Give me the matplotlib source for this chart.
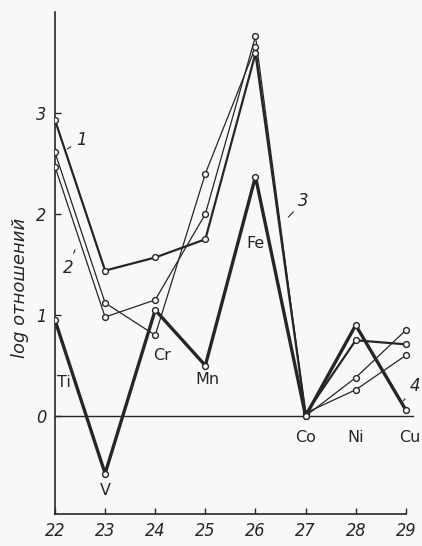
import matplotlib
matplotlib.use("Agg")
import matplotlib.pyplot as plt

# atomic numbers on the x axis
z = [22, 23, 24, 25, 26, 27, 28, 29]
elements = ["Ti", "V", "Cr", "Mn", "Fe", "Co", "Ni", "Cu"]

# log ratios
curve1 = [2.93, 1.44, 1.57, 1.75, 3.59, 0.02, 0.75, 0.71]
curve2 = [2.47, 0.98, 1.15, 2.00, 3.76, 0.00, 0.38, 0.85]
curve3 = [2.61, 1.12, 0.80, 2.40, 3.65, 0.03, 0.26, 0.60]
curve4 = [0.95, -0.57, 1.05, 0.50, 2.37, 0.00, 0.90, 0.06]

ink = "#262626"
bg = "#f8f8f6"

fig = plt.figure(figsize=(4.22, 5.46), dpi=100, facecolor=bg)
ax = fig.add_axes([0.1303, 0.0586, 0.867, 0.9286], facecolor=bg)

mk = dict(marker="o", markersize=4.2, markerfacecolor="white",
          markeredgecolor=ink, markeredgewidth=1.0, color=ink)
ax.plot(z, curve2, lw=0.9, zorder=3, **mk)
ax.plot(z, curve3, lw=0.9, zorder=3, **mk)
ax.plot(z, curve1, lw=1.6, zorder=4, **mk)
ax.plot(z, curve4, lw=2.4, zorder=5, **mk)

# zero line
ax.plot([22, 29.15], [0, 0], color=ink, lw=1.0, zorder=2)

ax.set_xlim(22, 29.3)
ax.set_ylim(-0.97, 4.05)
for s in ["top", "right"]:
    ax.spines[s].set_visible(False)
ax.spines["left"].set_bounds(-0.97, 4.0)
ax.spines["bottom"].set_bounds(22, 29)
ax.spines["left"].set_color(ink)
ax.spines["bottom"].set_color(ink)
ax.spines["left"].set_linewidth(1.2)
ax.spines["bottom"].set_linewidth(1.2)

tick_font = dict(fontsize=13, fontstyle="italic", fontstretch="condensed", color=ink)
ax.set_xticks(z)
ax.set_xticklabels([str(v) for v in z], **tick_font)
ax.set_yticks([0, 1, 2, 3])
ax.set_yticklabels(["0", "1", "2", "3"], **tick_font)
ax.tick_params(axis="both", direction="in", length=4, width=1, color=ink)
ax.tick_params(axis="x", pad=6)
ax.tick_params(axis="y", pad=6)

ax.set_ylabel("log отношений", fontsize=13, fontstyle="italic", color=ink)
ax.yaxis.set_label_coords(-0.071, 0.446)

# element labels
lab_pos = {"Ti": (22.04, 0.33), "V": (23.0, -0.74), "Cr": (23.95, 0.6),
           "Mn": (25.05, 0.36), "Fe": (25.81, 1.71), "Co": (27.0, -0.21),
           "Ni": (28.0, -0.21), "Cu": (29.08, -0.21)}
for el in elements:
    x, y = lab_pos[el]
    ha = "left" if el in ("Ti", "Cr", "Fe") else "center"
    ax.text(x, y, el, fontsize=11.5, color=ink, ha=ha, va="center")

# curve numbers with short leader lines
num_font = dict(fontsize=12, fontstyle="italic", color=ink, va="center")
line_style = dict(arrowstyle="-", color=ink, lw=0.8)
ax.annotate("1", xy=(22.2, 2.63), xytext=(22.42, 2.73), arrowprops=line_style, **num_font)
ax.annotate("2", xy=(22.42, 1.67), xytext=(22.15, 1.47), arrowprops=line_style, **num_font)
ax.annotate("3", xy=(26.62, 1.95), xytext=(26.85, 2.13), arrowprops=line_style, **num_font)
ax.annotate("4", xy=(28.95, 0.15), xytext=(29.07, 0.3), arrowprops=line_style, **num_font)

fig.savefig("out.png", dpi=100, facecolor=bg)
